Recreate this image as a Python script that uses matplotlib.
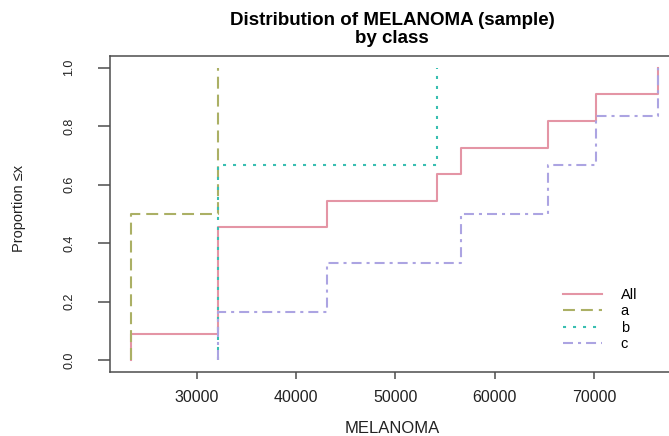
import numpy as np
import matplotlib
matplotlib.use("Agg")
import matplotlib.pyplot as plt

# MELANOMA sample values, split by class
class_a = [23400, 32100]
class_b = [32100, 32100, 54200]
class_c = [32100, 43100, 56600, 65300, 70200, 76400]

series_names = ["All", "a", "b", "c"]
series_colors = ["#E495A5", "#ABB065", "#39BEB1", "#ACA4E2"]
x_ticks = [30000, 40000, 50000, 60000, 70000]
y_ticks = [0.0, 0.2, 0.4, 0.6, 0.8, 1.0]

plt.rcParams["font.family"] = ["Liberation Sans", "DejaVu Sans"]
plt.rcParams["lines.scale_dashes"] = False

AXIS_GREY = "#4d4d4d"

# R lty 1..4: solid, dashed, dotted, dotdash
line_styles = ["-", (0, (8.6, 4.3)), (0, (2.2, 5.0)), (0, (7.2, 3.6, 2.2, 3.6))]


def ecdf_xy(values):
    """Step coordinates for an empirical CDF starting at 0 and ending at 1."""
    x = np.sort(np.asarray(values, dtype=float))
    y = np.arange(1, len(x) + 1) / len(x)
    return np.r_[x[0], x], np.r_[0.0, y]


groups = [class_a + class_b + class_c, class_a, class_b, class_c]

fig = plt.figure(figsize=(6.69, 4.36), dpi=100)
# the plot region runs a little past the right edge of the image
ax = fig.add_axes([110 / 669, 64 / 436, 569 / 669, 316 / 436])

for vals, name, col, ls in zip(groups, series_names, series_colors, line_styles):
    xs, ys = ecdf_xy(vals)
    ax.plot(xs, ys, drawstyle="steps-post", color=col, lw=1.5, ls=ls, label=name)

all_vals = np.array(groups[0], dtype=float)
span = all_vals.max() - all_vals.min()
ax.set_xlim(all_vals.min() - 0.04 * span, all_vals.max() + 0.04 * span)
ax.set_ylim(-0.04, 1.04)

ax.set_xticks(x_ticks)
ax.set_xticklabels([str(t) for t in x_ticks])
ax.set_yticks(y_ticks)
ax.set_yticklabels([f"{t:.1f}" for t in y_ticks])

for sp in ax.spines.values():
    sp.set_color(AXIS_GREY)
    sp.set_linewidth(1.1)

ax.tick_params(axis="x", length=5, width=1.1, color=AXIS_GREY, pad=8,
               labelsize=11.5, labelcolor="#222222")
ax.tick_params(axis="y", length=9, width=1.1, color=AXIS_GREY, pad=16,
               labelsize=9, labelcolor="#222222", labelrotation=90)
for lab in ax.get_yticklabels():
    lab.set_verticalalignment("center")

ax.set_xlabel("MELANOMA", fontsize=12, color="#222222")
ax.xaxis.label.set_verticalalignment("baseline")
ax.xaxis.set_label_coords((392.5 - 110) / 569, (372 - 433) / 316)

ax.set_ylabel("Proportion \u2264x", fontsize=10.5, color="#222222")
ax.yaxis.label.set_verticalalignment("center")
ax.yaxis.set_label_coords((19 - 110) / 569, (372 - 208) / 316)

# va="baseline" on a two-line text pins the second line's baseline
fig.text(392 / 669, 1 - 43 / 436, "Distribution of MELANOMA (sample)\nby class",
         ha="center", va="baseline", fontsize=13.5, fontweight="bold",
         linespacing=1.1, color="black")

ax.legend(loc="upper left", bbox_to_anchor=(563 / 669, 1 - 288 / 436),
          bbox_transform=fig.transFigure, frameon=False, fontsize=10.5,
          handlelength=2.7, handletextpad=1.25, labelspacing=0.16,
          borderpad=0, borderaxespad=0)

fig.savefig("out.png", dpi=100)
